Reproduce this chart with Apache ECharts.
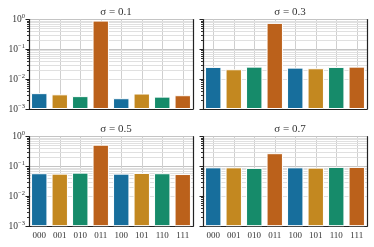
<!DOCTYPE html>
<html><head><meta charset="utf-8">
<script src="https://cdn.jsdelivr.net/npm/echarts@6/dist/echarts.min.js"></script>
<style>html,body{margin:0;padding:0;background:#fff}#c{width:374px;height:247px}</style>
</head><body><div id="c"></div>
<script>
var categories = ['000','001','010','011','100','101','110','111'];
var titles = ['\u03c3 = 0.1','\u03c3 = 0.3','\u03c3 = 0.5','\u03c3 = 0.7'];
var sigma01 = [0.0034,0.0031,0.0027,0.92,0.0023,0.0033,0.0026,0.0029];
var sigma03 = [0.0257,0.0215,0.0263,0.77,0.0244,0.0232,0.0257,0.0263];
var sigma05 = [0.0596,0.0577,0.0624,0.54,0.0577,0.061,0.0596,0.056];
var sigma07 = [0.094,0.094,0.09,0.28,0.094,0.092,0.097,0.097];
var yTicks = [0.001,0.01,0.1,1];
var minorValues = [2,3,4,5,6,7,8,9];
var palette = ['#176e9c','#c38820','#168b6a','#bb611b'];

var seriesData = [sigma01, sigma03, sigma05, sigma07];
var font = 'Liberation Serif';
var lefts = [29, 203], tops = [19.5, 136.7], W = 164, H = 89.5;
var grids = [], xAxes = [], yAxes = [], series = [], titleArr = [];
var minorLines = [];
yTicks.slice(0,3).forEach(function(d){ minorValues.forEach(function(m){ minorLines.push({yAxis: +(d*m).toPrecision(3)}); }); });

for (var i = 0; i < 4; i++) {
  var col = i % 2, row = Math.floor(i / 2);
  grids.push({left: lefts[col], top: tops[row], width: W, height: H, show: false});
  titleArr.push({text: titles[i], left: lefts[col] + W/2, top: tops[row] - 18, textAlign: 'center',
    textStyle: {fontFamily: font, fontSize: 11, fontWeight: 'normal', color: '#333'}});
  xAxes.push({type: 'category', gridIndex: i, data: categories,
    axisLine: {lineStyle: {color: '#222', width: 1.2}},
    axisTick: {alignWithLabel: true, length: 3, lineStyle: {color: '#222'}},
    axisLabel: {show: row === 1, fontFamily: font, fontSize: 9, color: '#333', margin: 5},
    splitLine: {show: true, alignWithLabel: true, lineStyle: {color: '#cfcfcf', width: 1}}});
  yAxes.push({type: 'log', gridIndex: i, min: 0.001, max: 1, logBase: 10, startValue: 0.001,
    axisLine: {show: true, lineStyle: {color: '#222', width: 1.2}},
    axisTick: {show: true, length: 3.5, lineStyle: {color: '#222'}},
    minorTick: {show: true, splitNumber: 9, length: 2, lineStyle: {color: '#333'}},
    axisLabel: {show: col === 0, fontFamily: font, fontSize: 9.5, color: '#333', margin: 4,
      formatter: function(v){ var e = Math.round(Math.log10(v)); return '{b|10}{s|' + (e < 0 ? '\u2212' + (-e) : e) + '}'; },
      rich: {b: {fontFamily: font, fontSize: 9.5, color: '#333'}, s: {fontFamily: font, fontSize: 6.5, color: '#333', padding: [0,0,6,0]}}},
    splitLine: {show: true, lineStyle: {color: '#c4c4c4', width: 1}}});
  yAxes.push({type: 'value', gridIndex: i, position: 'right', min: 0, max: 1,
    axisLine: {show: true, lineStyle: {color: '#222', width: 1.2}}, axisTick: {show: false},
    axisLabel: {show: false}, splitLine: {show: false}});
  series.push({type: 'line', xAxisIndex: i, yAxisIndex: 2*i, data: [], z: 0, zlevel: 0,
    markLine: {silent: true, symbol: 'none', label: {show: false}, animation: false, z: 0,
      lineStyle: {color: '#e0e0e0', width: 1, type: 'solid'}, data: minorLines}});
  series.push({type: 'bar', xAxisIndex: i, yAxisIndex: 2*i, barCategoryGap: '20%',
    data: seriesData[i].map(function(v, k){ return {value: v, itemStyle: {color: palette[k % 4]}}; }),
    itemStyle: {borderColor: '#fff', borderWidth: 1}, z: 5});
}
var chart = echarts.init(document.getElementById('c'), null, {renderer: 'canvas'});
chart.setOption({animation: false, backgroundColor: '#fff', title: titleArr, grid: grids, xAxis: xAxes, yAxis: yAxes, series: series});
</script></body></html>
